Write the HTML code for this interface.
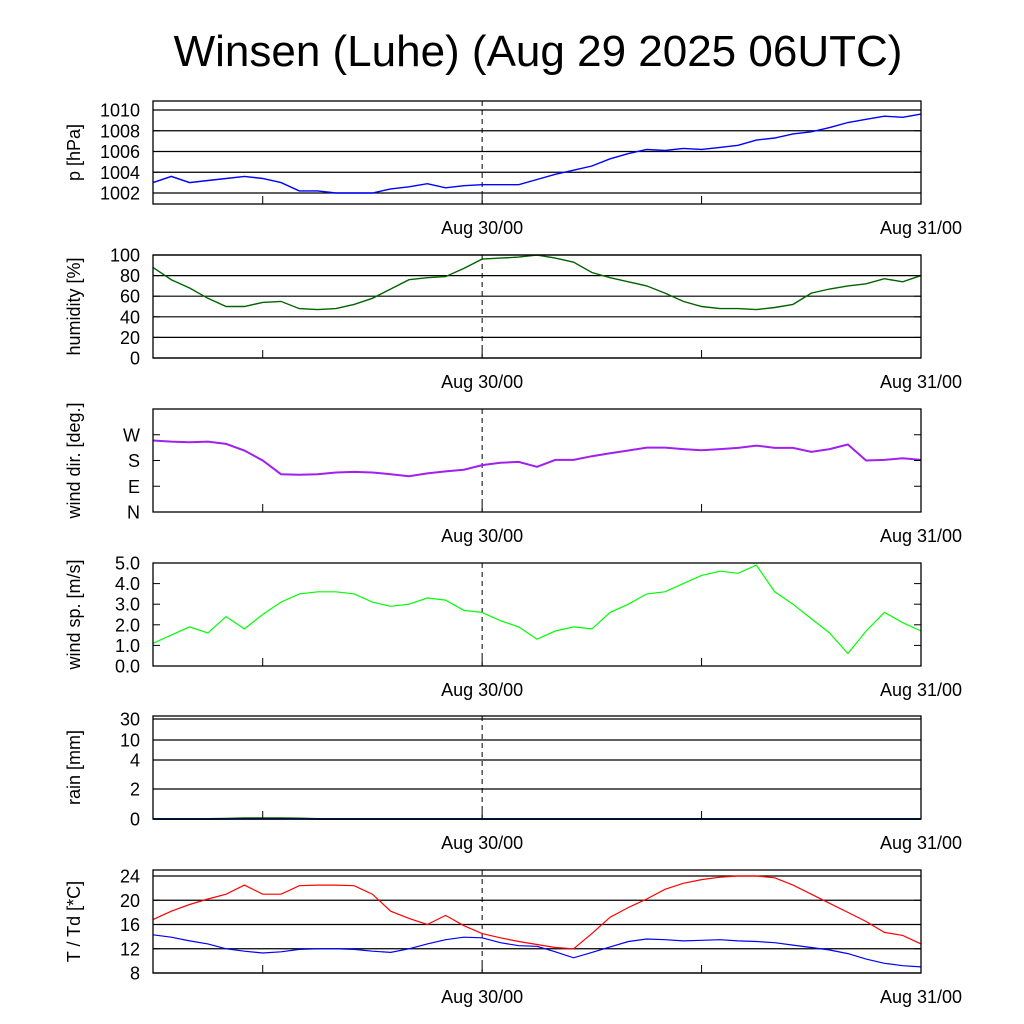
<!DOCTYPE html>
<html><head><meta charset="utf-8"><style>
html,body{margin:0;padding:0;background:#fff;}
svg{display:block;font-family:"Liberation Sans",sans-serif;}
</style></head><body>
<svg id="chart" width="1024" height="1024" viewBox="0 0 1024 1024" xmlns="http://www.w3.org/2000/svg">
<rect width="1024" height="1024" fill="#fff"/>
<text x="538" y="66" font-size="44" text-anchor="middle">Winsen (Luhe) (Aug 29 2025 06UTC)</text>
</svg>
<script>
// hours since Aug 29 06UTC (0..42)
const hours = [0,1,2,3,4,5,6,7,8,9,10,11,12,13,14,15,16,17,18,19,20,21,22,23,24,25,26,27,28,29,30,31,32,33,34,35,36,37,38,39,40,41,42];
const pressure = [1003.0,1003.6,1003.0,1003.2,1003.4,1003.6,1003.4,1003.0,1002.2,1002.2,1002.0,1002.0,1002.0,1002.4,1002.6,1002.9,1002.5,1002.7,1002.8,1002.8,1002.8,1003.3,1003.8,1004.2,1004.6,1005.3,1005.8,1006.2,1006.1,1006.3,1006.2,1006.4,1006.6,1007.1,1007.3,1007.7,1007.9,1008.3,1008.8,1009.1,1009.4,1009.3,1009.6];
const humidity = [88,76,68,58,50,50,54,55,48,47,48,52,58,67,76,78,79,87,96,97,98,100,97,93,83,78,74,70,63,55,50,48,48,47,49,52,63,67,70,72,77,74,80];
const windDir = [250,246,244,246,238,215,180,132,130,132,138,140,138,132,125,135,142,148,164,172,175,158,182,182,195,205,215,225,225,220,216,220,224,232,224,224,210,220,236,180,182,188,182];
const windSpeed = [1.1,1.5,1.9,1.6,2.4,1.8,2.5,3.1,3.5,3.6,3.6,3.5,3.1,2.9,3.0,3.3,3.2,2.7,2.6,2.2,1.9,1.3,1.7,1.9,1.8,2.6,3.0,3.5,3.6,4.0,4.4,4.6,4.5,4.9,3.6,3.0,2.3,1.6,0.6,1.7,2.6,2.1,1.7];
const rain = [0,0,0,0,0.02,0.05,0.05,0.05,0.03,0,0,0,0,0,0,0,0,0,0,0,0,0,0,0,0,0,0,0,0,0,0,0,0,0,0,0,0,0,0,0,0,0,0];
const temp = [16.8,18.2,19.3,20.2,21.0,22.5,21.0,21.0,22.4,22.5,22.5,22.4,21.0,18.2,17.0,16.0,17.5,15.8,14.5,13.8,13.2,12.7,12.2,12.0,14.5,17.2,18.8,20.2,21.8,22.8,23.4,23.8,24.0,24.0,23.7,22.5,21.0,19.5,18.0,16.5,14.7,14.2,12.8];
const dewpoint = [14.3,13.9,13.3,12.8,12.0,11.6,11.3,11.5,11.9,12.0,12.0,11.9,11.6,11.4,12.0,12.8,13.5,13.9,13.8,13.0,12.5,12.4,11.5,10.5,11.4,12.3,13.2,13.6,13.5,13.3,13.4,13.5,13.3,13.2,13.0,12.6,12.2,11.8,11.2,10.3,9.6,9.2,9.0];
const xTickHours = [6,18,30,42];
const xLabels = [[18,"Aug 30/00"],[42,"Aug 31/00"]];
const pTicks = [1002,1004,1006,1008,1010];
const hTicks = [0,20,40,60,80,100];
const dTicks = [[0,"N"],[90,"E"],[180,"S"],[270,"W"]];
const sTicks = [0.0,1.0,2.0,3.0,4.0,5.0];
const rTicks = [0,2,4,10,30];
const tTicks = [8,12,16,20,24];

const NS="http://www.w3.org/2000/svg";
const svg=document.getElementById('chart');
const X0=153,X1=921;
const xs=h=>X0+(h-0)*(X1-X0)/42;
function el(tag,attrs,parent){const e=document.createElementNS(NS,tag);for(const k in attrs)e.setAttribute(k,attrs[k]);(parent||svg).appendChild(e);return e;}

function panel(name,top,bot,yfn,ticks,labelFn,grid,title,series){
  const g=el('g',{});
  
  
  if(grid){ticks.forEach(t=>{const v=Array.isArray(t)?t[0]:t;const y=yfn(v);
    const l=el('line',{x1:X0,x2:X1,y1:y,y2:y,stroke:'#000','stroke-width':1.2},g);
    
    });}
  const d=el('line',{x1:xs(18),x2:xs(18),y1:top,y2:bot,stroke:'#000','stroke-dasharray':'5,4','stroke-width':1},g);
  
  
  series.forEach(s=>{
    const pts=s.vals.map((v,i)=>xs(hours[i]).toFixed(1)+','+yfn(v).toFixed(1)).join(' ');
    const p=el('polyline',{points:pts,fill:'none',stroke:s.color,'stroke-width':s.w||1.4},g);
    
    
  });
  const f=el('rect',{x:X0,y:top,width:X1-X0,height:bot-top,fill:'none',stroke:'#000','stroke-width':1.3},g);
  
  
  ticks.forEach(t=>{const v=Array.isArray(t)?t[0]:t;const y=yfn(v);
    el('line',{x1:X0,x2:X0+7,y1:y,y2:y,stroke:'#000'},g);
    el('line',{x1:X1-7,x2:X1,y1:y,y2:y,stroke:'#000'},g);
    const tx=el('text',{x:X0-13,y:y+6.5,'font-size':18,'text-anchor':'end'},g);
    tx.textContent=labelFn(t);
    
    
  });
  xTickHours.forEach(h=>{el('line',{x1:xs(h),x2:xs(h),y1:bot,y2:bot-8,stroke:'#000'},g);});
  xLabels.forEach(([h,s])=>{const tx=el('text',{x:xs(h),y:bot+30,'font-size':18,'text-anchor':'middle'},g);tx.textContent=s;
    
    });
  const cy=(top+bot)/2;
  const tt=el('text',{x:0,y:0,'font-size':18,'text-anchor':'middle',transform:`translate(80,${cy}) rotate(-90)`},g);
  tt.textContent=title;
  
  
}
const lin=(v0,y0,v1,y1)=>v=>y0+(v-v0)*(y1-y0)/(v1-v0);
panel('pressure',101,204,lin(1002,193,1010,110),pTicks,t=>t,true,'p [hPa]',[{vals:pressure,color:'#0000ff',name:'pressure-line'}]);
panel('humidity',255,358,lin(0,358,100,255),hTicks,t=>t,true,'humidity [%]',[{vals:humidity,color:'#006400',name:'humidity-line'}]);
panel('wind-direction',409,512,lin(0,512,360,409),dTicks,t=>t[1],false,'wind dir. [deg.]',[{vals:windDir,color:'#a020f0',name:'wind-direction-line',w:2}]);
panel('wind-speed',563,666,lin(0,666,5,563),sTicks,t=>t.toFixed(1),false,'wind sp. [m/s]',[{vals:windSpeed,color:'#00ff00',name:'wind-speed-line',w:1.2}]);
const rY=[819,789,760,740,719];
function rainY(v){for(let i=0;i<rTicks.length-1;i++){if(v<=rTicks[i+1])return rY[i]+(v-rTicks[i])*(rY[i+1]-rY[i])/(rTicks[i+1]-rTicks[i]);}return rY[rY.length-1];}
panel('rain',716,819,rainY,rTicks,t=>t,true,'rain [mm]',[{vals:rain,color:'#006400',name:'rain-line',w:2},{vals:rain.map(()=>0),color:'#0000ff',name:'rain-baseline',w:1.5}]);
panel('temperature',870,973,lin(8,973,24,876),tTicks,t=>t,true,'T / Td [*C]',[{vals:temp,color:'#ff0000',name:'temperature-line',w:1.2},{vals:dewpoint,color:'#0000ff',name:'dewpoint-line',w:1.2}]);
</script>
</body></html>
